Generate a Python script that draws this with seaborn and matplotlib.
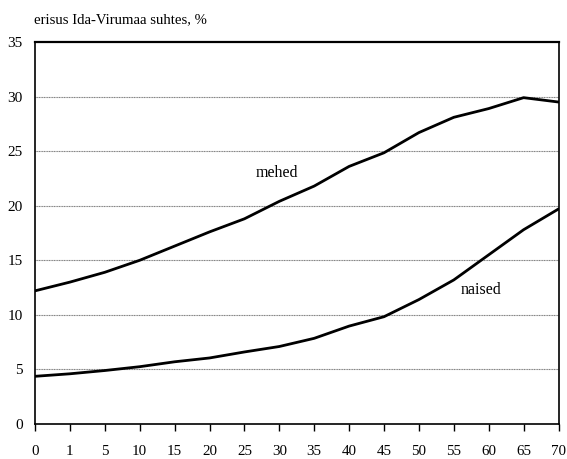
import matplotlib
matplotlib.use("Agg")
import matplotlib.pyplot as plt
import seaborn as sns
import pandas as pd
import numpy as np

ages = ["0", "1", "5", "10", "15", "20", "25", "30", "35", "40", "45", "50", "55", "60", "65", "70"]
mehed = [12.2, 13.0, 13.9, 15.0, 16.3, 17.6, 18.8, 20.4, 21.8, 23.6, 24.85, 26.7, 28.1, 28.9, 29.9, 29.5]
naised = [4.37, 4.6, 4.9, 5.25, 5.7, 6.05, 6.6, 7.1, 7.85, 8.97, 9.83, 11.4, 13.2, 15.5, 17.8, 19.7]
yticks = [0, 5, 10, 15, 20, 25, 30, 35]

sns.set_theme(style="white")
plt.rcParams['font.family'] = ['Liberation Serif', 'DejaVu Serif']

df = pd.DataFrame({
    "pos": list(range(len(ages))) * 2,
    "value": mehed + naised,
    "sex": ["mehed"] * len(ages) + ["naised"] * len(ages),
})

fig = plt.figure(figsize=(5.67, 4.59), dpi=100)
ax = fig.add_axes([35 / 567, 1 - 424 / 459, (558.5 - 35) / 567, (424 - 42) / 459])

sns.lineplot(data=df, x="pos", y="value", hue="sex", palette=["black", "black"],
             linewidth=2, legend=False, ax=ax, zorder=3)

ax.set_xlim(0, len(ages) - 1)
ax.set_ylim(0, 35)
ax.set_xticks(range(len(ages)))
ax.set_xticklabels(ages)
ax.set_yticks(yticks)
ax.set_xlabel("")
ax.set_ylabel("")
for y in yticks[1:-1]:
    ax.axhline(y, color="#808080", linewidth=0.8, linestyle=(0, (1, 0.5)), zorder=1)

for s in ax.spines.values():
    s.set_color("black")
    s.set_linewidth(1.2)
ax.spines["top"].set_linewidth(1.6)

ax.tick_params(axis="x", direction="out", length=5, width=1, color="black",
               labelsize=10.8, pad=10, bottom=True)
ax.tick_params(axis="y", length=0, labelsize=11, pad=9, left=True)
for lab in ax.get_xticklabels() + ax.get_yticklabels():
    lab.set_color("black")

ax.text(6.93, 23.0, "mehed", fontsize=11.5, ha="center", va="center", color="black")
ax.text(12.77, 12.3, "naised", fontsize=11.5, ha="center", va="center", color="black")

fig.text(34 / 567, 1 - 20 / 459, "erisus Ida-Virumaa suhtes, %", fontsize=10.6, ha="left",
         va="center", color="black")

fig.savefig("out.png", dpi=100, facecolor="white")
